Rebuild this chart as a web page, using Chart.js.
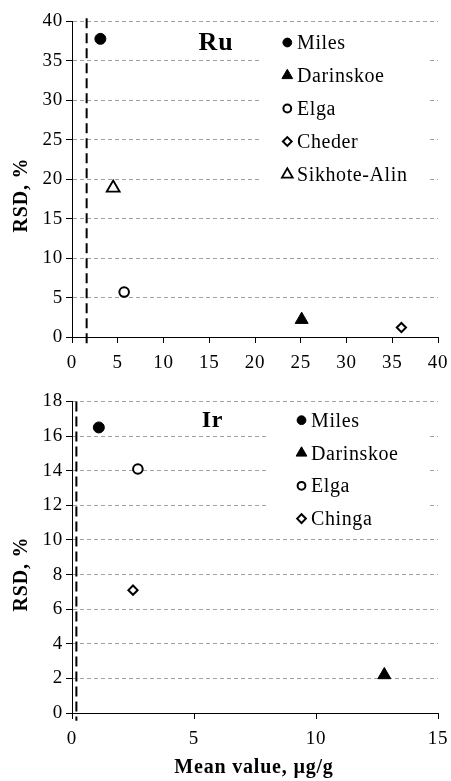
<!DOCTYPE html>
<html>
<head>
<meta charset="utf-8">
<script src="https://cdn.jsdelivr.net/npm/chart.js@4/dist/chart.umd.min.js"></script>
<style>
  html, body { margin: 0; padding: 0; background: #fff; }
  #wrap { position: relative; width: 451px; height: 781px; background: #fff; }
  canvas { position: absolute; left: 0; }
</style>
</head>
<body>
<div id="wrap">
  <canvas id="ru" width="451" height="390" style="top:0"></canvas>
  <canvas id="ir" width="451" height="391" style="top:390px"></canvas>
</div>
<script>
// ---- Ru panel data ----
const ruSites = ['Miles', 'Darinskoe', 'Elga', 'Cheder', 'Sikhote-Alin'];
const ruMean  = [3.1, 25.1, 5.7, 36.0, 4.5];
const ruRsd   = [37.8, 2.2, 5.7, 1.2, 18.9];
const ruLimitX = [1.6, 1.6];      // dashed reference line
const ruLimitY = [40.4, -1.0];
const ruXRange = [0, 40, 5];      // min, max, step
const ruYRange = [0, 40, 5];

// ---- Ir panel data ----
const irSites = ['Miles', 'Darinskoe', 'Elga', 'Chinga'];
const irMean  = [1.1, 12.8, 2.7, 2.5];
const irRsd   = [16.5, 2.2, 14.1, 7.1];
const irLimitX = [0.18, 0.18];
const irLimitY = [18.0, -0.45];
const irXRange = [0, 15, 5];
const irYRange = [0, 18, 2];

const SERIF = '"Liberation Serif", "Times New Roman", serif';

// marker look per site
const markerStyle = {
  'Miles':        { pointStyle: 'circle',   fill: '#000', radius: 5.5, borderWidth: 1,   legendRadius: 4.4 },
  'Darinskoe':    { pointStyle: 'triangle', fill: '#000', radius: 7.5, borderWidth: 1,   legendRadius: 6.2 },
  'Elga':         { pointStyle: 'circle',   fill: '#fff', radius: 4.8, borderWidth: 2,   legendRadius: 3.9 },
  'Cheder':       { pointStyle: 'rectRot',  fill: '#fff', radius: 4.6, borderWidth: 2,   legendRadius: 4.4 },
  'Chinga':       { pointStyle: 'rectRot',  fill: '#fff', radius: 4.6, borderWidth: 2,   legendRadius: 4.4 },
  'Sikhote-Alin': { pointStyle: 'triangle', fill: '#fff', radius: 7.5, borderWidth: 1.8, legendRadius: 6.2 }
};

function pointDatasets(sites, means, rsds) {
  return sites.map((name, i) => {
    const m = markerStyle[name];
    return {
      type: 'scatter',
      label: name,
      data: [{ x: means[i], y: rsds[i] }],
      pointStyle: m.pointStyle,
      pointRadius: m.radius,
      pointHoverRadius: m.radius,
      pointBackgroundColor: m.fill,
      pointBorderColor: '#000',
      pointBorderWidth: m.borderWidth,
      clip: false
    };
  });
}

function limitDataset(xs, ys) {
  return {
    type: 'line',
    label: 'limit',
    data: xs.map((x, i) => ({ x, y: ys[i] })),
    borderColor: '#000',
    borderWidth: 2,
    borderDash: [10, 5],
    pointRadius: 0,
    fill: false,
    clip: false
  };
}

// in-plot legend, panel label and axis titles
const decorPlugin = {
  id: 'decor',
  beforeDatasetsDraw(chart, args, opts) {
    const ctx = chart.ctx;
    const L = opts.legend;
    ctx.save();
    ctx.fillStyle = '#fff';
    ctx.fillRect(L.box[0], L.box[1], L.box[2] - L.box[0], L.box[3] - L.box[1]);
    ctx.restore();
  },
  afterDatasetsDraw(chart, args, opts) {
    const ctx = chart.ctx;
    const L = opts.legend;
    ctx.save();
    ctx.font = '20px ' + SERIF;
    ctx.textBaseline = 'alphabetic';
    ctx.textAlign = 'left';
    try { ctx.letterSpacing = '0.6px'; } catch (e) {}
    L.items.forEach((name, i) => {
      const m = markerStyle[name];
      const base = L.firstBaseline + i * L.step;
      const my = base - 6.5;
      ctx.fillStyle = m.fill;
      ctx.strokeStyle = '#000';
      ctx.lineWidth = m.borderWidth;
      Chart.helpers.drawPoint(ctx, { pointStyle: m.pointStyle, radius: m.legendRadius, rotation: 0, borderWidth: m.borderWidth }, L.markerX, my);
      ctx.fillStyle = '#000';
      ctx.fillText(name, L.textX, base);
    });
    ctx.restore();

    // element label
    ctx.save();
    ctx.font = 'bold ' + opts.tag.size + 'px ' + SERIF;
    ctx.fillStyle = '#000';
    ctx.textAlign = 'center';
    ctx.textBaseline = 'alphabetic';
    ctx.fillText(opts.tag.text, opts.tag.x, opts.tag.y);
    ctx.restore();

    // y title
    ctx.save();
    ctx.font = 'bold 20px ' + SERIF;
    ctx.fillStyle = '#000';
    ctx.textAlign = 'center';
    ctx.textBaseline = 'alphabetic';
    ctx.translate(opts.yTitle.x, opts.yTitle.y);
    ctx.rotate(-Math.PI / 2);
    ctx.fillText('RSD, %', 0, 0);
    ctx.restore();

    if (opts.xTitle) {
      ctx.save();
      ctx.font = 'bold 20px ' + SERIF;
      ctx.fillStyle = '#000';
      ctx.textAlign = 'center';
      ctx.textBaseline = 'alphabetic';
      ctx.fillText(opts.xTitle.text, opts.xTitle.x, opts.xTitle.y);
      ctx.restore();
    }
  }
};

// wider glyph spacing for all chart text
const spacingPlugin = {
  id: 'spacing',
  beforeInit(chart) { try { chart.ctx.letterSpacing = '0.8px'; } catch (e) {} },
  beforeDraw(chart) { try { chart.ctx.letterSpacing = '0.8px'; } catch (e) {} }
};

function makeScales(xr, yr, xHeight) {
  return {
    x: {
      type: 'linear', position: 'bottom',
      min: xr[0], max: xr[1],
      ticks: { stepSize: xr[2], color: '#000', font: { family: SERIF, size: 19 }, padding: 9, maxRotation: 0, autoSkip: false },
      grid: { drawOnChartArea: false, drawTicks: true, tickLength: 6, color: '#000', tickColor: '#000', lineWidth: 1 },
      border: { display: true, color: '#000', width: 1 },
      afterFit(s) { s.height = xHeight; s.paddingLeft = 0; s.paddingRight = 0; }
    },
    y: {
      type: 'linear', position: 'left',
      min: yr[0], max: yr[1],
      ticks: { stepSize: yr[2], color: '#000', font: { family: SERIF, size: 19 }, padding: 3, autoSkip: false },
      grid: { drawOnChartArea: true, drawTicks: true, tickLength: 6, color: '#a0a0a0', tickColor: '#000', lineWidth: 1 },
      border: { display: true, color: '#000', width: 1, dash: [4, 3] },
      afterFit(s) { s.width = 72; s.paddingTop = 0; s.paddingBottom = 0; }
    }
  };
}

function baseOptions(xr, yr, xHeight, pad, decor) {
  return {
    responsive: false,
    animation: false,
    events: [],
    layout: { padding: pad },
    scales: makeScales(xr, yr, xHeight),
    plugins: {
      legend: { display: false },
      tooltip: { enabled: false },
      decor: decor
    }
  };
}

new Chart(document.getElementById('ru'), {
  type: 'scatter',
  data: { datasets: [limitDataset(ruLimitX, ruLimitY), ...pointDatasets(ruSites, ruMean, ruRsd)] },
  options: baseOptions(ruXRange, ruYRange, 53, { top: 21.5, right: 13, left: 0, bottom: 0 }, {
    legend: { items: ruSites, box: [262, 26, 427, 196], markerX: 287.3, textX: 297, firstBaseline: 49, step: 33 },
    tag: { text: 'Ru', x: 216, y: 50, size: 26 },
    yTitle: { x: 27, y: 195 }
  }),
  plugins: [spacingPlugin, decorPlugin]
});

new Chart(document.getElementById('ir'), {
  type: 'scatter',
  data: { datasets: [limitDataset(irLimitX, irLimitY), ...pointDatasets(irSites, irMean, irRsd)] },
  options: baseOptions(irXRange, irYRange, 68, { top: 11.5, right: 13, left: 0, bottom: 0 }, {
    legend: { items: irSites, box: [268, 16, 427, 146], markerX: 301.5, textX: 311, firstBaseline: 36.7, step: 32.8 },
    tag: { text: 'Ir', x: 212.5, y: 36.7, size: 24 },
    yTitle: { x: 27, y: 184 },
    xTitle: { text: 'Mean value, µg/g', x: 254, y: 383 }
  }),
  plugins: [spacingPlugin, decorPlugin]
});
</script>
</body>
</html>
